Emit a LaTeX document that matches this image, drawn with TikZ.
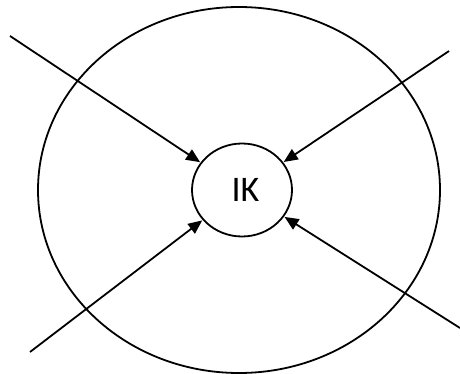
\documentclass[tikz,border=0pt]{standalone}
\usepackage{fontspec}
\setmainfont{Carlito}
\usepackage{tikz}
\usetikzlibrary{arrows.meta,shapes.geometric}

\begin{document}
\begin{tikzpicture}[
    x=1pt, y=-1pt,
    >={Triangle[length=14pt,width=12pt]},
    ring/.style={ellipse, draw, line width=1.8pt, inner sep=0pt},
    arr/.style={->, line width=1.8pt, shorten >=0.5pt},
]
\useasboundingbox (0,0) rectangle (460,374);

% Ellipses
\node[ring, minimum width=402pt, minimum height=366pt] (outer) at (239,190) {};
\node[ring, minimum width=100pt, minimum height=93pt, font=\fontsize{36}{40}\selectfont] (ik) at (242,190) {\hspace{7pt}IK};

% Start points
\coordinate (nw) at (10,36);
\coordinate (ne) at (449,51);
\coordinate (sw) at (30,352);
\coordinate (se) at (460,328);

% Arrows
\draw[arr] (nw) -- (ik);
\draw[arr] (ne) -- (ik);
\draw[arr] (sw) -- (ik);
\draw[arr] (se) -- (ik);

\end{tikzpicture}
\end{document}
